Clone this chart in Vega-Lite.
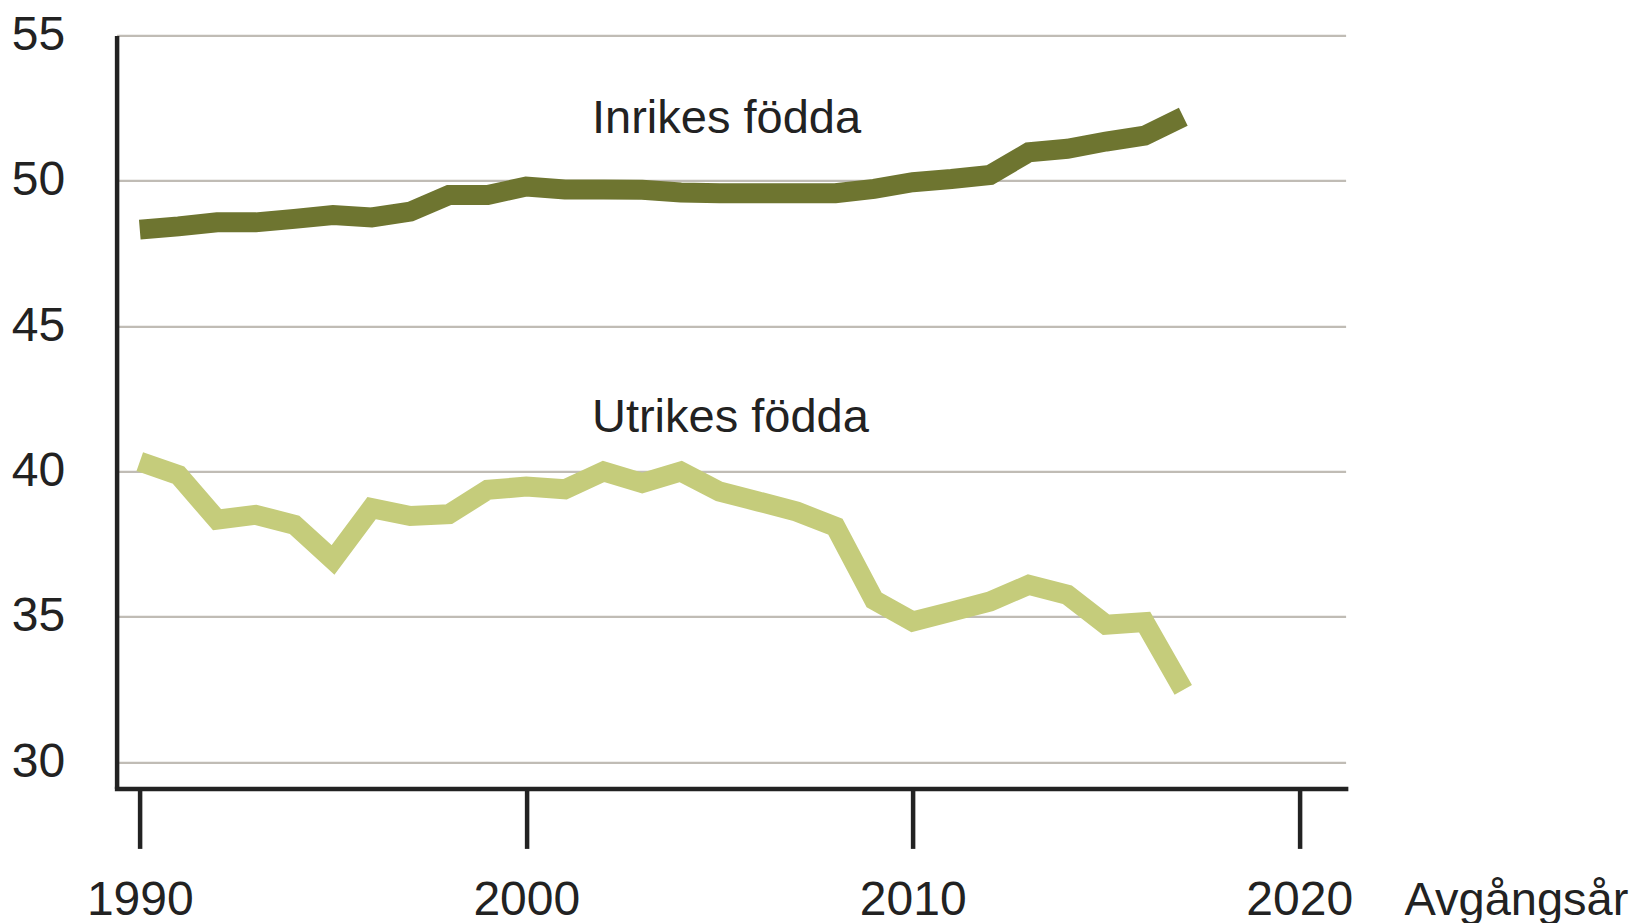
{
  "$schema": "https://vega.github.io/schema/vega-lite/v6.json",
  "autosize": "none",
  "width": 1229,
  "height": 753,
  "padding": {"left": 116.6, "top": 35.4, "right": 287.4, "bottom": 134.6},
  "background": "white",
  "config": {
    "view": {"stroke": null},
    "font": "Liberation Sans",
    "axis": {"labelFont": "Liberation Sans", "titleFont": "Liberation Sans"}
  },
  "datasets": {
    "series": [
      {"year": 1990, "group": "Inrikes födda", "value": 48.32},
      {"year": 1991, "group": "Inrikes födda", "value": 48.43},
      {"year": 1992, "group": "Inrikes födda", "value": 48.57},
      {"year": 1993, "group": "Inrikes födda", "value": 48.57},
      {"year": 1994, "group": "Inrikes födda", "value": 48.69},
      {"year": 1995, "group": "Inrikes födda", "value": 48.82},
      {"year": 1996, "group": "Inrikes födda", "value": 48.74},
      {"year": 1997, "group": "Inrikes födda", "value": 48.94},
      {"year": 1998, "group": "Inrikes födda", "value": 49.51},
      {"year": 1999, "group": "Inrikes födda", "value": 49.51},
      {"year": 2000, "group": "Inrikes födda", "value": 49.8},
      {"year": 2001, "group": "Inrikes födda", "value": 49.7},
      {"year": 2002, "group": "Inrikes födda", "value": 49.7},
      {"year": 2003, "group": "Inrikes födda", "value": 49.69},
      {"year": 2004, "group": "Inrikes födda", "value": 49.6},
      {"year": 2005, "group": "Inrikes födda", "value": 49.57},
      {"year": 2006, "group": "Inrikes födda", "value": 49.57},
      {"year": 2007, "group": "Inrikes födda", "value": 49.57},
      {"year": 2008, "group": "Inrikes födda", "value": 49.57},
      {"year": 2009, "group": "Inrikes födda", "value": 49.72},
      {"year": 2010, "group": "Inrikes födda", "value": 49.95},
      {"year": 2011, "group": "Inrikes födda", "value": 50.06},
      {"year": 2012, "group": "Inrikes födda", "value": 50.2},
      {"year": 2013, "group": "Inrikes födda", "value": 50.98},
      {"year": 2014, "group": "Inrikes födda", "value": 51.1},
      {"year": 2015, "group": "Inrikes födda", "value": 51.35},
      {"year": 2016, "group": "Inrikes födda", "value": 51.55},
      {"year": 2017, "group": "Inrikes födda", "value": 52.2},
      {"year": 1990, "group": "Utrikes födda", "value": 40.34},
      {"year": 1991, "group": "Utrikes födda", "value": 39.88},
      {"year": 1992, "group": "Utrikes födda", "value": 38.34},
      {"year": 1993, "group": "Utrikes födda", "value": 38.51},
      {"year": 1994, "group": "Utrikes födda", "value": 38.17},
      {"year": 1995, "group": "Utrikes födda", "value": 36.96},
      {"year": 1996, "group": "Utrikes födda", "value": 38.74},
      {"year": 1997, "group": "Utrikes födda", "value": 38.47},
      {"year": 1998, "group": "Utrikes födda", "value": 38.53},
      {"year": 1999, "group": "Utrikes födda", "value": 39.37},
      {"year": 2000, "group": "Utrikes födda", "value": 39.48},
      {"year": 2001, "group": "Utrikes födda", "value": 39.39},
      {"year": 2002, "group": "Utrikes födda", "value": 40.0},
      {"year": 2003, "group": "Utrikes födda", "value": 39.6},
      {"year": 2004, "group": "Utrikes födda", "value": 40.0},
      {"year": 2005, "group": "Utrikes födda", "value": 39.31},
      {"year": 2006, "group": "Utrikes födda", "value": 38.97},
      {"year": 2007, "group": "Utrikes födda", "value": 38.62},
      {"year": 2008, "group": "Utrikes födda", "value": 38.1},
      {"year": 2009, "group": "Utrikes födda", "value": 35.58},
      {"year": 2010, "group": "Utrikes födda", "value": 34.84},
      {"year": 2011, "group": "Utrikes födda", "value": 35.18},
      {"year": 2012, "group": "Utrikes födda", "value": 35.53},
      {"year": 2013, "group": "Utrikes födda", "value": 36.1},
      {"year": 2014, "group": "Utrikes födda", "value": 35.76},
      {"year": 2015, "group": "Utrikes födda", "value": 34.73},
      {"year": 2016, "group": "Utrikes födda", "value": 34.82},
      {"year": 2017, "group": "Utrikes födda", "value": 32.49}
    ],
    "labels": [
      {"year": 2001.7, "value": 51.64, "label": "Inrikes födda"},
      {"year": 2001.7, "value": 41.36, "label": "Utrikes födda"}
    ]
  },
  "layer": [
    {
      "data": {"name": "series"},
      "mark": {"type": "line", "strokeWidth": 20, "strokeCap": "butt", "strokeJoin": "miter", "clip": false},
      "encoding": {
        "x": {
          "field": "year",
          "type": "quantitative",
          "scale": {"domain": [1989.4, 2021.2], "nice": false, "zero": false},
          "axis": {
            "values": [1990, 2000, 2010, 2020],
            "format": "d",
            "grid": false,
            "domainColor": "#222222",
            "domainWidth": 4.5,
            "domainCap": "square",
            "ticks": true,
            "tickSize": 60,
            "tickWidth": 4.5,
            "tickColor": "#222222",
            "labelFontSize": 48,
            "labelColor": "#222222",
            "labelBaseline": "alphabetic",
            "labelPadding": 65.6,
            "labelFlush": false,
            "labelOverlap": false,
            "title": "Avgångsår",
            "titleFontSize": 47,
            "titleFontWeight": "normal",
            "titleColor": "#222222",
            "titleAlign": "left",
            "titleAnchor": "start",
            "titleBaseline": "alphabetic",
            "titleX": 1287.4,
            "titleY": 125.6
          }
        },
        "y": {
          "field": "value",
          "type": "quantitative",
          "scale": {"domain": [29.1, 55], "nice": false, "zero": false},
          "axis": {
            "values": [30, 35, 40, 45, 50, 55],
            "grid": true,
            "gridColor": "#c0bcb5",
            "gridWidth": 2.2,
            "domainColor": "#222222",
            "domainWidth": 4.5,
            "ticks": false,
            "tickSize": 0,
            "labelFontSize": 48,
            "labelColor": "#222222",
            "labelPadding": 52,
            "labelBaseline": "middle",
            "labelFlush": false,
            "labelOverlap": false,
            "title": null
          }
        },
        "color": {
          "field": "group",
          "type": "nominal",
          "scale": {"domain": ["Inrikes födda", "Utrikes födda"], "range": ["#6e7530", "#c5cc7b"]},
          "legend": null
        }
      }
    },
    {
      "data": {"name": "labels"},
      "mark": {"type": "text", "align": "left", "baseline": "alphabetic", "fontSize": 47, "color": "#222222", "font": "Liberation Sans"},
      "encoding": {
        "x": {"field": "year", "type": "quantitative"},
        "y": {"field": "value", "type": "quantitative"},
        "text": {"field": "label"}
      }
    }
  ]
}
